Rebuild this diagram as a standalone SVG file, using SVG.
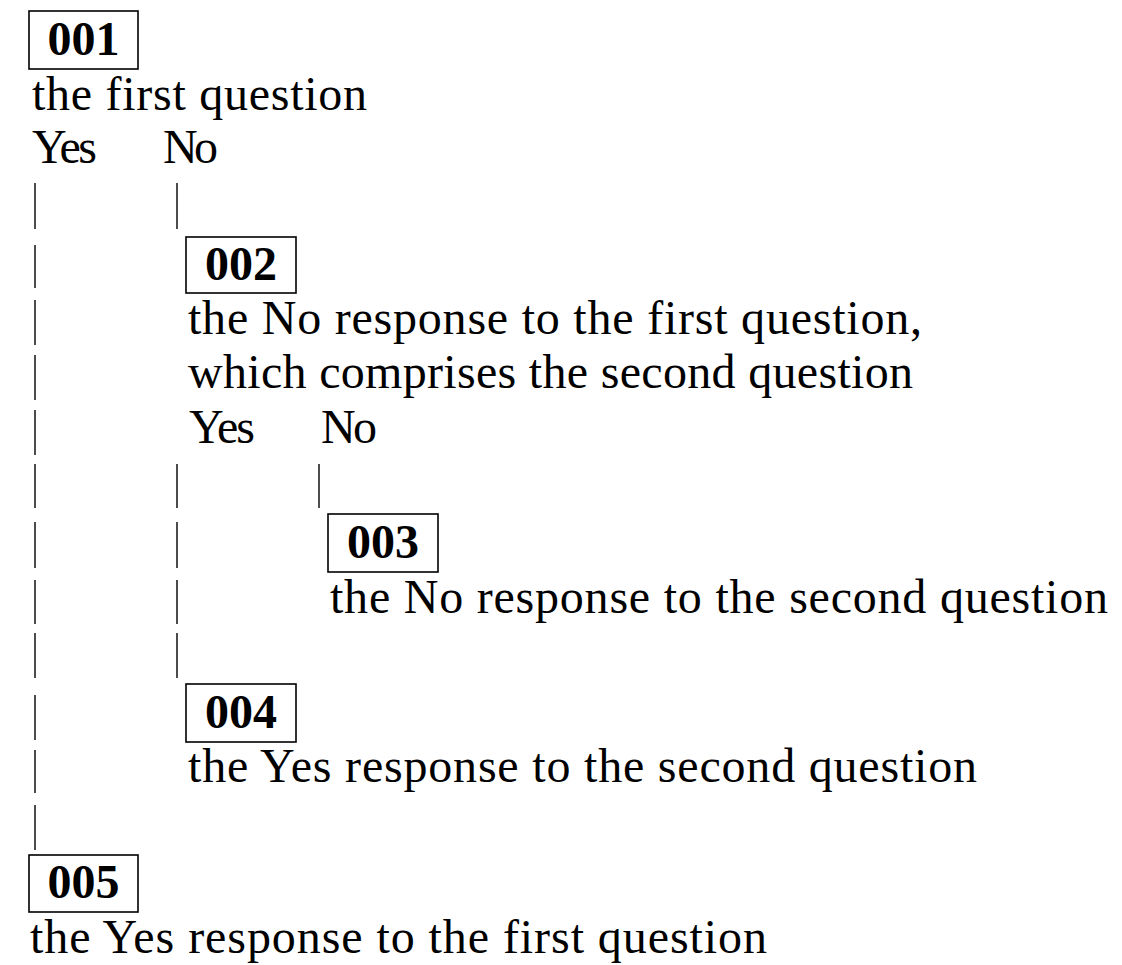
<svg xmlns="http://www.w3.org/2000/svg" width="1122" height="965" viewBox="0 0 1122 965">
<style>
.box{fill:none;stroke:#000;stroke-width:1.6}
.id{font-family:"Liberation Serif","Times New Roman",serif;font-weight:bold;font-size:48px;fill:#000;text-anchor:middle}
.t{font-family:"Liberation Serif","Times New Roman",serif;font-size:48px;fill:#000;lengthAdjust:spacing}
.bar{stroke:#000;stroke-width:1.4;fill:none}
</style>
<rect width="1122" height="965" fill="#fff"/>
<g id="n001">
<rect class="box" x="29" y="11" width="109" height="58"/>
<text class="id" x="83.5" y="55">001</text>
<text class="t" x="32" y="110" textLength="335" lengthAdjust="spacing">the first question</text>
<text class="t" x="32" y="163" textLength="65" lengthAdjust="spacing">Yes</text>
<text class="t" x="163" y="163" textLength="55" lengthAdjust="spacing">No</text>
</g>
<g id="n002">
<rect class="box" x="186" y="237" width="110" height="56"/>
<text class="id" x="241" y="280">002</text>
<text class="t" x="188" y="334" textLength="734" lengthAdjust="spacing">the No response to the first question,</text>
<text class="t" x="188" y="388" textLength="725" lengthAdjust="spacing">which comprises the second question</text>
<text class="t" x="189" y="443" textLength="66" lengthAdjust="spacing">Yes</text>
<text class="t" x="321" y="443" textLength="56" lengthAdjust="spacing">No</text>
</g>
<g id="n003">
<rect class="box" x="328" y="514" width="110" height="58"/>
<text class="id" x="383" y="558">003</text>
<text class="t" x="330" y="613" textLength="778" lengthAdjust="spacing">the No response to the second question</text>
</g>
<g id="n004">
<rect class="box" x="186" y="684" width="110" height="58"/>
<text class="id" x="241" y="728">004</text>
<text class="t" x="188" y="782" textLength="789" lengthAdjust="spacing">the Yes response to the second question</text>
</g>
<g id="n005">
<rect class="box" x="29" y="855" width="109" height="57"/>
<text class="id" x="83.5" y="898">005</text>
<text class="t" x="30" y="953" textLength="737" lengthAdjust="spacing">the Yes response to the first question</text>
</g>
<g id="connectors">
<path class="bar" d="M35 183V229M35 245V288M35 300V345M35 355V400M35 410V455M35 464V508M35 522V568M35 580V624M35 633V678M35 695V740M35 750V793M35 805V850"/>
<path class="bar" d="M177 183V229"/>
<path class="bar" d="M177 464V508M177 522V568M177 580V624M177 633V678"/>
<path class="bar" d="M319 464V508"/>
</g>
</svg>
